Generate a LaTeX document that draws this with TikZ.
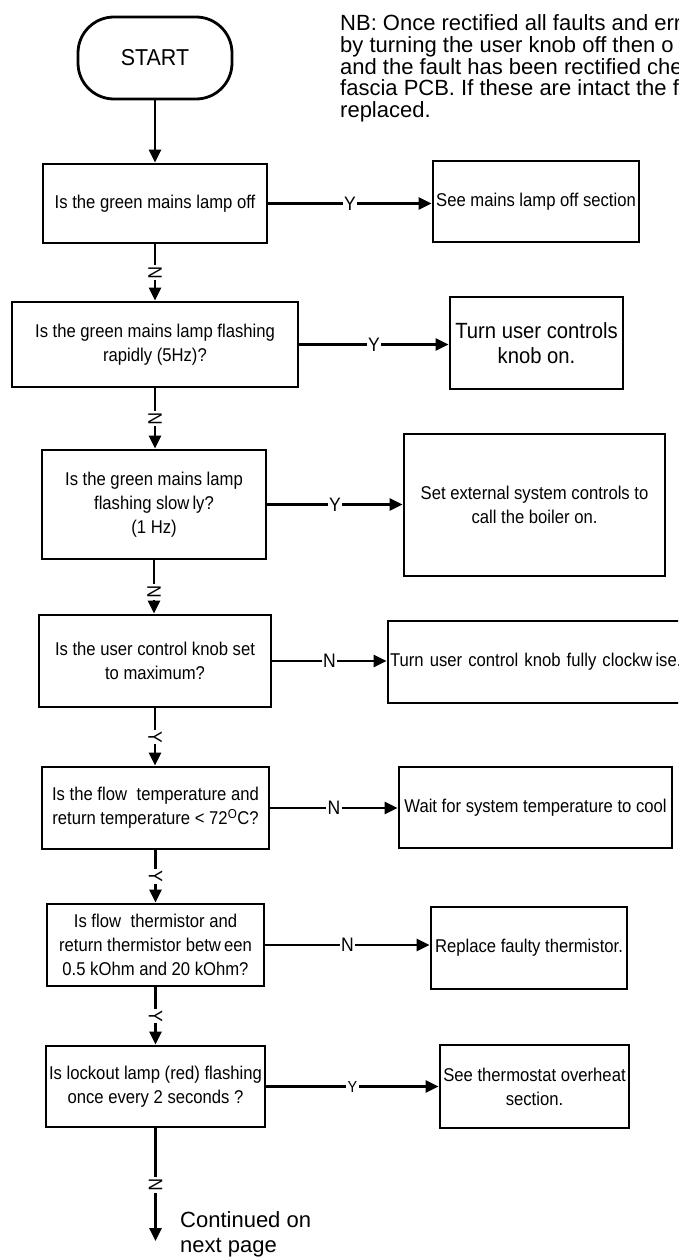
\documentclass[tikz,border=0pt]{standalone}
\usepackage{fontspec}
\setmainfont{Liberation Sans}
\newfontfamily\boxfont[FakeStretch=0.9]{Liberation Sans}
\newfontfamily\bigboxfont[FakeStretch=0.92]{Liberation Sans}
\newfontfamily\startfont[FakeStretch=0.93]{Liberation Sans}
\usetikzlibrary{arrows.meta}
\tikzset{
  box/.style={draw, line width=2.8pt, inner sep=2pt, align=center,
    font=\boxfont\fontsize{18.5}{24}\selectfont},
  conn/.style={line width=2.6pt, -{Triangle[length=13pt,width=12pt]}},
  lbl/.style={fill=white, inner sep=1.5pt, font=\boxfont\fontsize{19.5}{20}\selectfont},
  vlbl/.style={lbl, rotate=-90},
}
\begin{document}
\begin{tikzpicture}[x=1pt,y=-1pt]
\useasboundingbox (0,0) rectangle (678,1258);
\clip (0,0) rectangle (678,1258);

% note
\node[anchor=north west, inner sep=0, align=left,
  font=\fontsize{22}{21.7}\selectfont] (note) at (340,14.7)
  {NB: Once rectified all faults and err\\
   by turning the user knob off then o\\
   and the fault has been rectified che\\
   fascia PCB. If these are intact the f\\
   replaced.};

% start
\node[box, rounded corners=36pt, minimum width=154pt, minimum height=82pt,
  font=\startfont\fontsize{23}{25}\selectfont] (start) at (155,58) {START};

% decision column
\node[box, minimum width=224pt, minimum height=79pt] (b1) at (155,203.5)
  {Is the green mains lamp off};
\node[box, minimum width=286pt, minimum height=85pt] (b2) at (155,344.5)
  {Is the green mains lamp flashing\\rapidly (5Hz)?};
\node[box, minimum width=224pt, minimum height=109pt] (b3) at (154,504.5)
  {Is the green mains lamp\\flashing slow\,ly?\\(1 Hz)};
\node[box, minimum width=232pt, minimum height=92pt] (b4) at (155,661)
  {Is the user control knob set\\to maximum?};
\node[box, minimum width=227pt, minimum height=82pt] (b5) at (155.5,808)
  {Is the flow\hspace{5pt} temperature and\\return temperature < 72\textsuperscript{O}C?};
\node[box, minimum width=217pt, minimum height=82pt] (b6) at (155.5,945)
  {Is flow\hspace{5pt} thermistor and\\return thermistor betw\,een\\0.5 kOhm and 20 kOhm?};
\node[box, minimum width=219pt, minimum height=81pt] (b7) at (155.5,1086.5)
  {Is lockout lamp (red) flashing\\once every 2 seconds ?};

% action column
\node[box, minimum width=206pt, minimum height=81pt] (r1) at (536,201.5)
  {See mains lamp off section};
\node[box, minimum width=173pt, minimum height=92pt,
  font=\bigboxfont\fontsize{22}{25}\selectfont] (r2) at (536.5,343)
  {Turn user controls\\knob on.};
\node[box, minimum width=261pt, minimum height=142pt] (r3) at (534.5,505)
  {Set external system controls to\\call the boiler on.};
\node[box, text width=302pt, align=left, inner xsep=2pt, minimum height=82pt] (r4) at (541,662)
  {Turn user control knob fully clockw\,ise.};
\node[box, minimum width=273pt, minimum height=81pt] (r5) at (535.5,807.5)
  {Wait for system temperature to cool};
\node[box, minimum width=196pt, minimum height=82pt] (r6) at (529,948)
  {Replace faulty thermistor.};
\node[box, minimum width=189pt, minimum height=83pt] (r7) at (534.5,1086.5)
  {See thermostat overheat\\section.};

\coordinate (cont) at (155,1241);
\node[anchor=north west, inner sep=0, align=left,
  font=\fontsize{22}{25}\selectfont] (conttext) at (180,1211)
  {Continued on\\next page};

% vertical connectors
\draw[conn] (start.south) -- (start.south |- b1.north);
\draw[conn] (b1.south) -- (b1.south |- b2.north) node[vlbl, midway] {N};
\draw[conn] (b2.south) -- (b2.south |- b3.north) node[vlbl, midway] {N};
\draw[conn] (b3.south) -- (b3.south |- b4.north) node[vlbl, pos=0.6] {N};
\draw[conn] (b4.south) -- (b4.south |- b5.north) node[vlbl, midway] {Y};
\draw[conn] (b5.south) -- (b5.south |- b6.north) node[vlbl, midway] {Y};
\draw[conn] (b6.south) -- (b6.south |- b7.north) node[vlbl, midway] {Y};
\draw[conn] (b7.south) -- (b7.south |- cont) node[vlbl, midway] {N};

% horizontal connectors
\draw[conn] (b1.east) -- (b1.east -| r1.west) node[lbl, midway] {Y};
\draw[conn] (b2.east) -- (b2.east -| r2.west) node[lbl, midway] {Y};
\draw[conn] (b3.east) -- (b3.east -| r3.west) node[lbl, midway] {Y};
\draw[conn] (b4.east) -- (b4.east -| r4.west) node[lbl, midway] {N};
\draw[conn] (b5.east) -- (b5.east -| r5.west) node[lbl, midway] {N};
\draw[conn] (b6.east) -- (b6.east -| r6.west) node[lbl, midway] {N};
\draw[conn] (b7.east) -- (b7.east -| r7.west) node[lbl, midway,
  font=\boxfont\fontsize{16}{18}\selectfont] {Y};
\end{tikzpicture}
\end{document}
